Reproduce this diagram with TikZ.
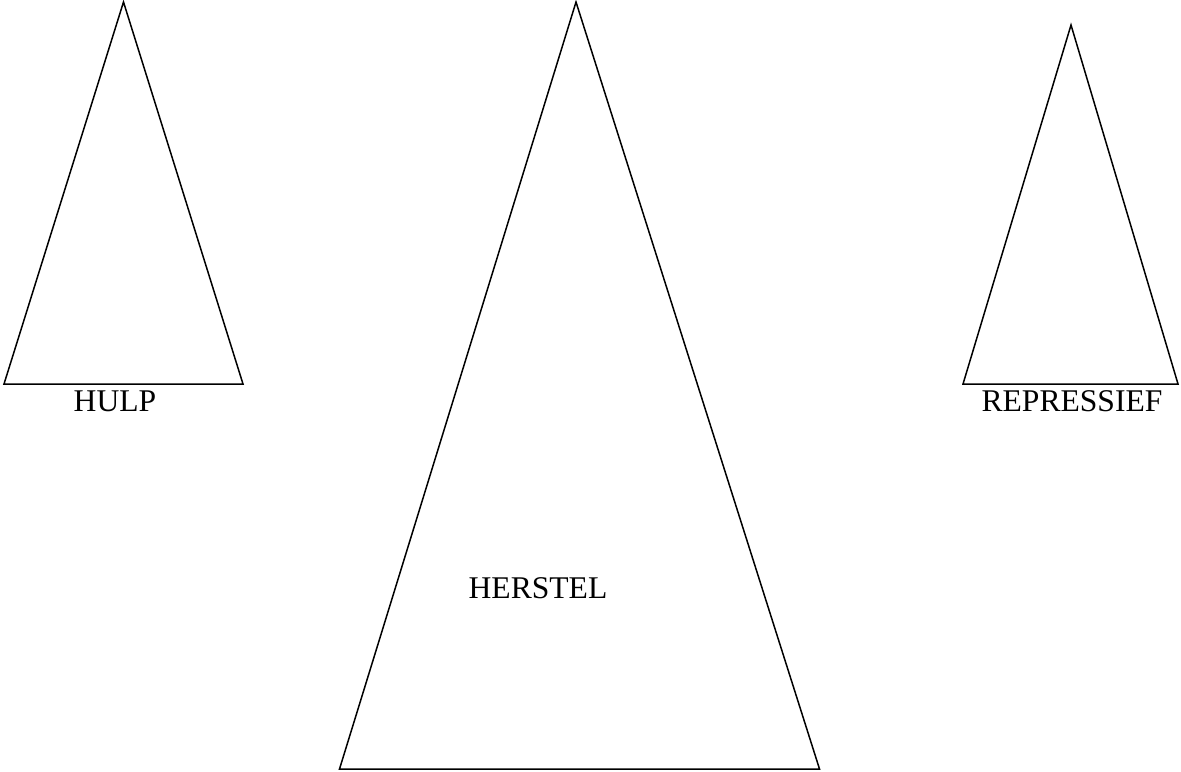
\documentclass[tikz,border=0pt]{standalone}
\usepackage{fontspec}
\setmainfont{Liberation Serif}
\usetikzlibrary{positioning}
\tikzset {
  every node/.style={font=\fontsize{15.8}{19}\selectfont, inner sep=0pt},
  tri/.style={draw, line width=0.75pt, line join=miter},
}

\begin{document}
\begin{tikzpicture}[x=0.5pt,y=-0.5pt]
          \useasboundingbox (0,0) rectangle (1181,771);

          % hulp
          \coordinate (hulptop) at (123.5,2);
          \coordinate (hulpleft) at (4,384);
          \coordinate (hulpright) at (243,384);
          \draw[tri] (hulptop) -- (hulpleft) -- (hulpright) -- cycle;
          \node[anchor=base] (hulp) at (115,411) {HULP};

          % herstel
          \coordinate (hersteltop) at (576,2);
          \coordinate (herstelleft) at (339.5,769);
          \coordinate (herstelright) at (819.5,769);
          \draw[tri] (hersteltop) -- (herstelleft) -- (herstelright) -- cycle;
          \node[anchor=base] (herstel) at (538,598) {HERSTEL};

          % repressief
          \coordinate (reprtop) at (1071,25);
          \coordinate (reprleft) at (963,384);
          \coordinate (reprright) at (1178,384);
          \draw[tri] (reprtop) -- (reprleft) -- (reprright) -- cycle;
          \node[anchor=base] (repr) at (1072,411) {REPRESSIEF};
\end{tikzpicture}
\end{document}
